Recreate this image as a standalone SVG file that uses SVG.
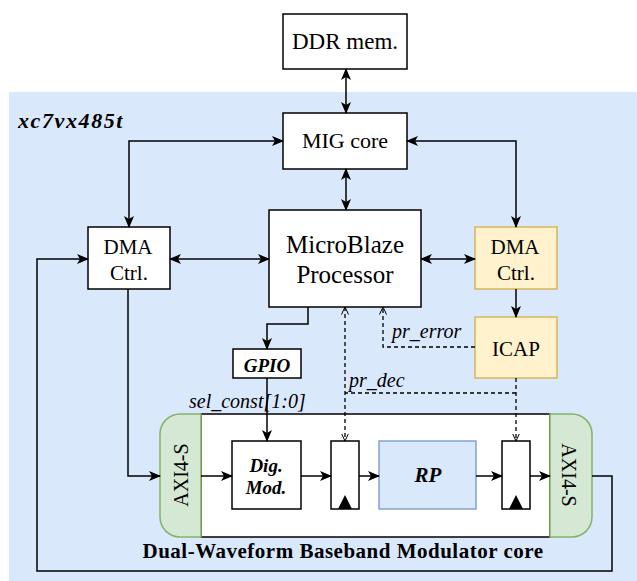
<svg xmlns="http://www.w3.org/2000/svg" width="637" height="581" viewBox="0 0 637 581">
<style>
.box{fill:#fff;stroke:#000;stroke-width:1.5}
.yel{fill:#fff2cc;stroke:#d6b656;stroke-width:1.5}
.grn{fill:#d5e8d4;stroke:#82b366;stroke-width:1.5}
.rp{fill:#dae8fc;stroke:#6c8ebf;stroke-width:1.2}
text{font-family:'Liberation Serif','Times New Roman',serif;fill:#000}
.c{text-anchor:middle}
.bi{font-weight:bold;font-style:italic}
.it{font-style:italic}
.ln{fill:none;stroke:#000;stroke-width:1.5}
.dl{fill:none;stroke:#000;stroke-width:1.3;stroke-dasharray:4 3}
</style>
<defs>
<marker id="arr" viewBox="0 0 12 10" refX="11" refY="5" markerWidth="12" markerHeight="10" markerUnits="userSpaceOnUse" orient="auto-start-reverse">
<path d="M0,0 L12,5 L0,10 L3,5 Z" fill="#000"/>
</marker>
<marker id="open" viewBox="0 0 8 8" refX="7.5" refY="4" markerWidth="8" markerHeight="8" markerUnits="userSpaceOnUse" orient="auto-start-reverse">
<path d="M0,0.5 L7.5,4 L0,7.5" fill="none" stroke="#000" stroke-width="1"/>
</marker>
</defs>
<rect x="9" y="92" width="628" height="489" fill="#dae8fc"/>
<text class="bi" x="18" y="128" font-size="22" letter-spacing="1.6">xc7vx485t</text>

<g id="ddr"><rect class="box" x="283" y="14" width="124" height="55"/><text class="c" x="345" y="49" font-size="23">DDR mem.</text></g>
<g id="mig"><rect class="box" x="283" y="113" width="124" height="56"/><text class="c" x="345" y="148" font-size="22">MIG core</text></g>
<g id="mb"><rect class="box" x="269" y="210" width="152" height="97"/><text class="c" x="345" y="253" font-size="25">MicroBlaze</text><text class="c" x="345" y="283" font-size="25">Processor</text></g>
<g id="dmaL"><rect class="box" x="88" y="227" width="82" height="62"/><text class="c" x="128" y="254" font-size="21">DMA</text><text class="c" x="129" y="280" font-size="21">Ctrl.</text></g>
<g id="dmaR"><rect class="yel" x="475" y="227" width="82" height="62"/><text class="c" x="515" y="254" font-size="21">DMA</text><text class="c" x="516" y="280" font-size="21">Ctrl.</text></g>
<g id="icap"><rect class="yel" x="475" y="317" width="82" height="61"/><text class="c" x="516" y="356" font-size="21">ICAP</text></g>
<g id="gpio"><rect class="box" x="233" y="349" width="68" height="29"/><text class="c bi" x="267" y="372" font-size="19">GPIO</text></g>

<g id="module">
<rect class="box" x="201" y="414" width="349" height="123"/>
<text class="c" font-weight="bold" x="343" y="558" font-size="21" letter-spacing="0.5">Dual-Waveform Baseband Modulator core</text>
</g>
<g id="axiL"><path class="grn" d="M201,414 H180 A20,20 0 0 0 160,434 V517 A20,20 0 0 0 180,537 H201 Z"/><text class="c" transform="translate(188,475) rotate(-90)" font-size="20">AXI4-S</text></g>
<g id="axiR"><path class="grn" d="M550,414 H572 A20,20 0 0 1 592,434 V517 A20,20 0 0 1 572,537 H550 Z"/><text class="c" transform="translate(562,475) rotate(90)" font-size="20">AXI4-S</text></g>
<g id="digmod"><rect class="box" x="232" y="441" width="69" height="68"/><text class="c bi" x="266" y="472" font-size="19">Dig.</text><text class="c bi" x="266" y="494" font-size="19">Mod.</text></g>
<g id="reg1"><rect class="box" x="331" y="441" width="28" height="68"/><path d="M338,509 L345,495 L352,509 Z" fill="#000"/></g>
<g id="rp"><rect class="rp" x="379" y="441" width="97" height="68"/><text class="c bi" x="428" y="482" font-size="21">RP</text></g>
<g id="reg2"><rect class="box" x="502" y="441" width="28" height="68"/><path d="M509,509 L516,495 L523,509 Z" fill="#000"/></g>

<g id="connectors">
<path class="ln" d="M346,69 V113" marker-start="url(#arr)" marker-end="url(#arr)"/>
<path class="ln" d="M346,169 V210" marker-start="url(#arr)" marker-end="url(#arr)"/>
<path class="ln" d="M283,141 H129 V227" marker-start="url(#arr)" marker-end="url(#arr)"/>
<path class="ln" d="M407,141 H516 V227" marker-start="url(#arr)" marker-end="url(#arr)"/>
<path class="ln" d="M170,259 H269" marker-start="url(#arr)" marker-end="url(#arr)"/>
<path class="ln" d="M421,259 H475" marker-start="url(#arr)" marker-end="url(#arr)"/>
<path class="ln" d="M516,289 V317" marker-end="url(#arr)"/>
<path class="ln" d="M308,307 V324 H267 V349" marker-end="url(#arr)"/>
<path class="ln" d="M267,378 V441" marker-end="url(#arr)"/>
<path class="ln" d="M128,289 V476 H160" marker-end="url(#arr)"/>
<path class="ln" d="M201,476 H232" marker-end="url(#arr)"/>
<path class="ln" d="M301,476 H331" marker-end="url(#arr)"/>
<path class="ln" d="M359,476 H379" marker-end="url(#arr)"/>
<path class="ln" d="M476,476 H502" marker-end="url(#arr)"/>
<path class="ln" d="M530,476 H550" marker-end="url(#arr)"/>
<path class="ln" d="M592,476 H612 V571 H37 V259 H88" marker-end="url(#arr)"/>
<path class="dl" d="M475,347 H383 V307" marker-end="url(#open)"/>
<path class="dl" d="M516,378 V441" marker-end="url(#open)"/>
<path class="dl" d="M516,393 H345"/>
<path class="dl" d="M345,307 V441" marker-start="url(#open)" marker-end="url(#open)"/>
<text class="it" x="392" y="338" font-size="20">pr_error</text>
<text class="it" x="349" y="387" font-size="20">pr_dec</text>
<text class="it" x="189" y="408" font-size="20">sel_const[1:0]</text>
</g>
</svg>
